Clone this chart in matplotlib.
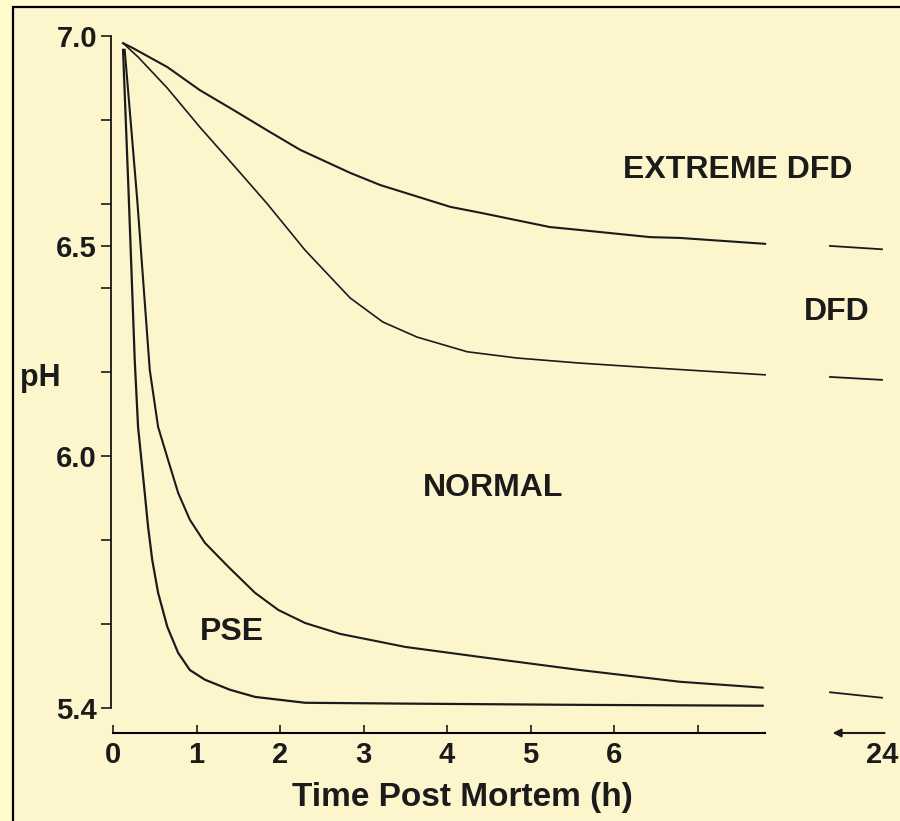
"""pH decline post mortem for PSE, normal, DFD and extreme DFD meat."""

import matplotlib.pyplot as plt
from matplotlib.patches import Rectangle

plt.rcParams["font.family"] = ["Liberation Sans", "DejaVu Sans"]
plt.rcParams["font.weight"] = "bold"

INK = "#1b1b1b"

# hours post mortem / pH
ext_h = [0.12, 0.24, 0.65, 1.04, 1.44, 1.84, 2.24, 2.84, 3.20, 4.04, 4.40, 5.23, 5.59,
         6.43, 6.79, 7.81]
ext_ph = [6.983, 6.971, 6.926, 6.871, 6.824, 6.776, 6.729, 6.674, 6.645, 6.593, 6.579,
          6.545, 6.538, 6.521, 6.519, 6.505]

dfd_h = [0.12, 0.30, 0.65, 1.04, 1.44, 1.84, 2.30, 2.84, 3.23, 3.64, 4.24, 4.84, 5.59,
         6.43, 7.81]
dfd_ph = [6.983, 6.950, 6.876, 6.783, 6.693, 6.602, 6.490, 6.376, 6.319, 6.283, 6.248,
          6.233, 6.221, 6.210, 6.193]

normal_h = [0.14, 0.29, 0.44, 0.54, 0.66, 0.78, 0.92, 1.10, 1.38, 1.70, 1.98, 2.30, 2.72,
            3.20, 3.50, 4.40, 5.59, 6.79, 7.78]
normal_ph = [6.967, 6.610, 6.205, 6.069, 5.990, 5.912, 5.848, 5.793, 5.736, 5.674, 5.633,
             5.602, 5.576, 5.557, 5.545, 5.521, 5.490, 5.462, 5.448]

pse_h = [0.12, 0.19, 0.26, 0.30, 0.38, 0.42, 0.47, 0.54, 0.65, 0.78, 0.92, 1.10, 1.40,
         1.70, 2.30, 3.50, 5.59, 7.78]
pse_ph = [6.967, 6.610, 6.229, 6.069, 5.912, 5.831, 5.752, 5.674, 5.593, 5.531, 5.490,
          5.467, 5.443, 5.426, 5.412, 5.410, 5.407, 5.405]

# the 24 h readings, drawn as short strokes past the axis break
late_h = [23.0, 24.0]
ext_24 = [6.500, 6.492]
dfd_24 = [6.188, 6.181]
normal_24 = [5.437, 5.424]

xticks = [0, 1, 2, 3, 4, 5, 6, 7]
xtick_labels = ["0", "1", "2", "3", "4", "5", "6", ""]
ymajor = [5.4, 6.0, 6.5, 7.0]
ymajor_labels = ["5.4", "6.0", "6.5", "7.0"]
yminor = [5.6, 5.8, 6.2, 6.4, 6.6, 6.8]

W, H = 900, 821
fig = plt.figure(figsize=(9, 8.21), dpi=100, facecolor="#fffbca")
fig.patches.append(Rectangle((13 / W, -0.05), 1.05, 1 - 7 / H + 0.05, transform=fig.transFigure,
                             facecolor="#fdf6cd", edgecolor="black", lw=1.6, zorder=-1))

ax = fig.add_axes([111 / W, 1 - 733 / H, 659 / W, 705 / H])
ax2 = fig.add_axes([826 / W, 1 - 733 / H, 64 / W, 705 / H])
for a in (ax, ax2):
    a.patch.set_visible(False)
    a.set_ylim(5.34, 7.019)
    for s in ("top", "right"):
        a.spines[s].set_visible(False)

ax.set_xlim(-0.024, 7.868)
ax2.set_xlim(22.923, 24.154)

ax.plot(ext_h, ext_ph, color=INK, lw=1.5, solid_joinstyle="round")
ax.plot(dfd_h, dfd_ph, color=INK, lw=1.2, solid_joinstyle="round")
ax.plot(normal_h, normal_ph, color=INK, lw=1.5, solid_joinstyle="round")
ax.plot(pse_h, pse_ph, color=INK, lw=1.6, solid_joinstyle="round")
for vals in (ext_24, dfd_24, normal_24):
    ax2.plot(late_h, vals, color=INK, lw=1.3)

# left axis
ax.spines["left"].set_bounds(5.4, 7.0)
ax.spines["left"].set_linewidth(1.2)
ax.set_yticks(ymajor)
ax.set_yticklabels(ymajor_labels)
ax.set_yticks(yminor, minor=True)
ax.tick_params(axis="y", which="both", direction="out", length=7, width=1.2,
               labelsize=21, pad=3, colors=INK)

# bottom axis
ax.spines["bottom"].set_bounds(0, 7.81)
ax.spines["bottom"].set_linewidth(1.5)
ax.set_xticks(xticks)
ax.set_xticklabels(xtick_labels)
ax.tick_params(axis="x", direction="in", length=6, width=1.2, labelsize=21, pad=6, colors=INK)

ax2.spines["left"].set_visible(False)
ax2.spines["bottom"].set_visible(False)
ax2.set_yticks([])
ax2.set_xticks([24])
ax2.set_xticklabels(["24"])
ax2.tick_params(axis="x", length=0, labelsize=21, pad=6, colors=INK)
ax2.annotate("", xy=(23.05, 0), xytext=(24.05, 0), xycoords=("data", "axes fraction"),
             arrowprops=dict(arrowstyle="-|>", color=INK, lw=1.5, mutation_scale=12,
                             shrinkA=0, shrinkB=0), annotation_clip=False)

lab = dict(fontsize=23, fontweight="bold", color=INK, ha="center", va="center", clip_on=False)
ax.text(7.48, 6.681, "EXTREME DFD", **lab)
ax.text(8.67, 6.343, "DFD", **lab)
ax.text(4.55, 5.924, "NORMAL", **lab)
ax.text(1.43, 5.581, "PSE", **lab)

fig.text(40 / W, 1 - 378 / H, "pH", fontsize=22, fontweight="bold", color=INK,
         ha="center", va="center")
fig.text(462 / W, 1 - 797 / H, "Time Post Mortem (h)", fontsize=24, fontweight="bold",
         color=INK, ha="center", va="center")

fig.savefig("out.png", dpi=100, facecolor=fig.get_facecolor())
